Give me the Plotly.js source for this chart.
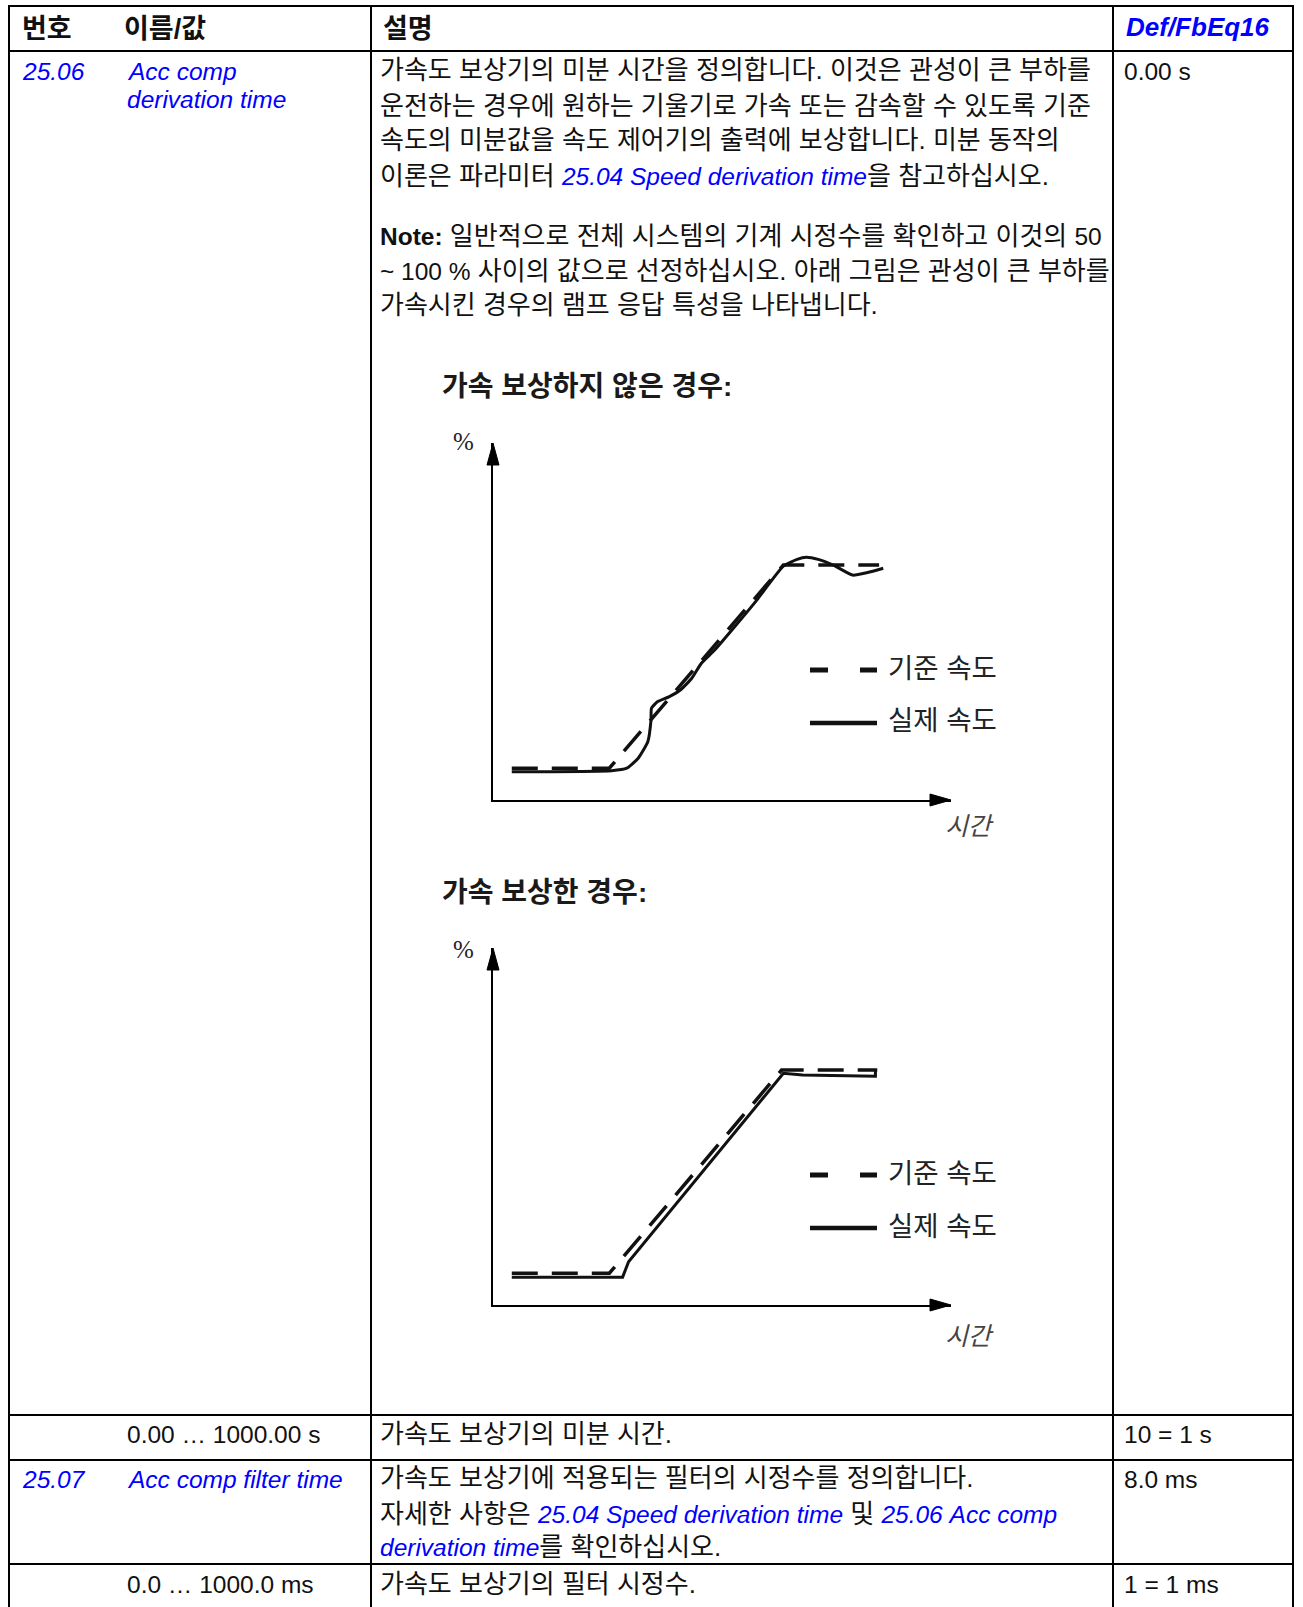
<!DOCTYPE html>
<html>
<head>
<meta charset="utf-8">
<script src="https://cdn.plot.ly/plotly-3.0.1.min.js"></script>
<style>
html,body{margin:0;padding:0;background:#fff;}
#page{width:1303px;height:1607px;}
</style>
</head>
<body>
<div id="page"></div>
<script>
// ---------- chart data (time in arbitrary units 0..100, speed in % 0..100) ----------
const ref1_t = [4.1, 25.4, 63.4, 84.3];
const ref1_v = [8.9, 8.9, 65.8, 65.8];
const act1_t = [4.1, 25.9, 29.2, 31.7, 33.8, 34.5, 34.6, 35.9, 38.4, 40.9, 43.4, 45.5, 48.4, 53.4, 57.6, 63.4, 66.4, 68.4, 71.0, 74.3, 78.5, 81.8, 85.2];
const act1_v = [7.9, 8.2, 8.9, 11.7, 16.3, 22.4, 25.7, 27.5, 28.9, 30.8, 34.1, 38.3, 42.0, 49.5, 56.0, 65.5, 67.4, 68.0, 67.4, 65.8, 63.0, 63.7, 64.9];

const ref2_t = [4.1, 25.4, 63.0, 83.9];
const ref2_v = [8.9, 8.9, 65.8, 65.8];
const act2_t = [4.1, 28.3, 29.6, 63.4, 67.6, 83.5, 83.5];
const act2_v = [7.8, 7.8, 12.1, 64.9, 64.4, 64.1, 65.6];

// ---------- text content ----------
const headerLabels = ["번호", "이름/값", "설명", "Def/FbEq16"];
const chartTitles = ["가속 보상하지 않은 경우:", "가속 보상한 경우:"];
const legendLabels = ["기준 속도", "실제 속도"];
const axisLabels = ["%", "시간"];
const row1Num = "25.06";
const row1Name = ["Acc comp", "derivation time"];
const row1Def = "0.00 s";
const link2504 = "25.04 Speed derivation time";
const desc1 = [
  "가속도 보상기의 미분 시간을 정의합니다. 이것은 관성이 큰 부하를",
  "운전하는 경우에 원하는 기울기로 가속 또는 감속할 수 있도록 기준",
  "속도의 미분값을 속도 제어기의 출력에 보상합니다. 미분 동작의",
  "이론은 파라미터 {L}을 참고하십시오."
];
const note1 = [
  "{B:Note:} 일반적으로 전체 시스템의 기계 시정수를 확인하고 이것의 {T:50}",
  "{T:~ 100 %} 사이의 값으로 선정하십시오. 아래 그림은 관성이 큰 부하를",
  "가속시킨 경우의 램프 응답 특성을 나타냅니다."
];
const row1Range = ["0.00 … 1000.00 s", "가속도 보상기의 미분 시간.", "10 = 1 s"];
const row2Num = "25.07";
const row2Name = "Acc comp filter time";
const row2Def = "8.0 ms";
const desc2 = [
  "가속도 보상기에 적용되는 필터의 시정수를 정의합니다.",
  "자세한 사항은 {L} 및 {M}",
  "{N}를 확인하십시오."
];
const row2Range = ["0.0 … 1000.0 ms", "가속도 보상기의 필터 시정수.", "1 = 1 ms"];

// ---------- layout helpers ----------
const W = 1303, H = 1607;
const px = x => x / W;
const py = y => 1 - y / H;
const FONT = "Liberation Sans, Arial, Noto Sans CJK KR, sans-serif";
const BLUE = "#0000ff";
const LAT = 24.5;   // size for Latin runs
const KOR = 26;     // size for Korean runs
const lat = s => '<span style="font-size:' + LAT + 'px">' + s + '</span>';
const blue = s => '<span style="color:' + BLUE + ';font-size:' + LAT + 'px"><i>' + s + '</i></span>';
function fmt(s) {
  return s.replace('{L}', blue(link2504))
          .replace('{M}', blue('25.06 Acc comp'))
          .replace('{N}', blue('derivation time'))
          .replace(/\{B:([^}]*)\}/g, (m, a) => lat('<b>' + a + '</b>'))
          .replace(/\{T:([^}]*)\}/g, (m, a) => lat(a));
}

const annotations = [];
function txt(x, y, text, size, opts) {
  opts = opts || {};
  annotations.push({
    xref: 'paper', yref: 'paper', x: px(x), y: py(y),
    xanchor: opts.xanchor || 'left', yanchor: 'middle',
    text: text, showarrow: false,
    font: {family: opts.family || FONT, size: size, color: opts.color || '#111'}
  });
}

const shapes = [];
function hline(x0, x1, y, w, color, dash) {
  shapes.push({type: 'line', xref: 'paper', yref: 'paper', x0: px(x0), x1: px(x1), y0: py(y), y1: py(y),
    line: {color: color || '#000', width: w || 2, dash: dash || 'solid'}});
}
function vline(x, y0, y1, w) {
  shapes.push({type: 'line', xref: 'paper', yref: 'paper', x0: px(x), x1: px(x), y0: py(y0), y1: py(y1),
    line: {color: '#000', width: w || 2}});
}
function tri(pts) {
  const p = 'M ' + pts.map(q => px(q[0]) + ',' + py(q[1])).join(' L ') + ' Z';
  shapes.push({type: 'path', xref: 'paper', yref: 'paper', path: p, fillcolor: '#000', line: {color: '#000', width: 1}});
}

// ---------- table grid ----------
const colX = [9, 371, 1113, 1293];
const rowY = [6, 51, 1415, 1460, 1564];
rowY.forEach(y => hline(colX[0] - 1, colX[3] + 1, y, 2));
colX.forEach(x => vline(x, rowY[0] - 1, H));

// ---------- table text ----------
txt(20, 29, '<b>' + headerLabels[0] + '</b>', 27);
txt(122, 29, '<b>' + headerLabels[1] + '</b>', 27);
txt(381, 29, '<b>' + headerLabels[2] + '</b>', 27);
txt(1124, 27, '<b><i>' + headerLabels[3] + '</i></b>', 26, {color: BLUE});

txt(20, 71, '<i>' + row1Num + '</i>', LAT, {color: BLUE});
txt(125, 71, '<i>' + row1Name[0] + '</i>', LAT, {color: BLUE});
txt(125, 99, '<i>' + row1Name[1] + '</i>', LAT, {color: BLUE});
txt(1122, 71, row1Def, LAT);

const descY = [70, 105.5, 140.5, 176];
desc1.forEach((s, i) => txt(378, descY[i], fmt(s), KOR));
const noteY = [236, 270.5, 304.5];
note1.forEach((s, i) => txt(378, noteY[i], fmt(s), KOR));

txt(125, 1434, row1Range[0], LAT);
txt(378, 1434, row1Range[1], KOR);
txt(1122, 1434, row1Range[2], LAT);

txt(20, 1479, '<i>' + row2Num + '</i>', LAT, {color: BLUE});
txt(125, 1479, '<i>' + row2Name + '</i>', LAT, {color: BLUE});
txt(1122, 1479, row2Def, LAT);
const desc2Y = [1478, 1514, 1547];
desc2.forEach((s, i) => txt(378, desc2Y[i], fmt(s), KOR));

txt(125, 1584, row2Range[0], LAT);
txt(378, 1584, row2Range[1], KOR);
txt(1122, 1584, row2Range[2], LAT);

// ---------- chart geometry ----------
const AX0 = 493, AX1 = 951;
const charts = [
  {titleY: 386, yTop: 443, yBot: 800, pctY: 441, timeY: 826, legDash: 670, legSolid: 723},
  {titleY: 892, yTop: 948, yBot: 1305, pctY: 949, timeY: 1336, legDash: 1175, legSolid: 1228}
];
charts.forEach((c, i) => {
  txt(440, c.titleY, '<b>' + chartTitles[i] + '</b>', 28, {color: '#1a1a1a'});
  txt(463, c.pctY, axisLabels[0], 25, {xanchor: 'center', family: 'Liberation Serif, serif', color: '#222'});
  txt(969, c.timeY, '<i>' + axisLabels[1] + '</i>', 25, {xanchor: 'center', color: '#444'});
  // arrowheads
  tri([[AX0, c.yTop], [AX0 - 6, c.yTop + 22], [AX0 + 6, c.yTop + 22]]);
  tri([[AX1, c.yBot], [AX1 - 21, c.yBot - 6], [AX1 - 21, c.yBot + 6]]);
  // legend samples
  hline(810, 877, c.legDash, 5, '#111', '18px,32px');
  hline(810, 877, c.legSolid, 4.5, '#111');
  txt(886, c.legDash - 2, legendLabels[0], 27.5, {color: '#222'});
  txt(886, c.legSolid - 2, legendLabels[1], 27.5, {color: '#222'});
});

function axisPair(c) {
  return [
    {domain: [px(AX0), px(AX1)], range: [0, 100], showline: true, linecolor: '#000', linewidth: 2,
     showgrid: false, zeroline: false, showticklabels: false, ticks: '', fixedrange: true},
    {domain: [py(c.yBot), py(c.yTop)], range: [0, 100], showline: true, linecolor: '#000', linewidth: 2,
     showgrid: false, zeroline: false, showticklabels: false, ticks: '', fixedrange: true}
  ];
}
const a1 = axisPair(charts[0]), a2 = axisPair(charts[1]);
a1[1].anchor = 'x'; a1[0].anchor = 'y';
a2[1].anchor = 'x2'; a2[0].anchor = 'y2';

const dashStyle = {color: '#111', width: 3.5, dash: '26px,14px'};
const solidStyle = {color: '#111', width: 3};
const traces = [
  {x: ref1_t, y: ref1_v, xaxis: 'x', yaxis: 'y', mode: 'lines', line: dashStyle, name: legendLabels[0], hoverinfo: 'skip', cliponaxis: false},
  {x: act1_t, y: act1_v, xaxis: 'x', yaxis: 'y', mode: 'lines', line: Object.assign({shape: 'spline', smoothing: 0.5}, solidStyle), name: legendLabels[1], hoverinfo: 'skip', cliponaxis: false},
  {x: ref2_t, y: ref2_v, xaxis: 'x2', yaxis: 'y2', mode: 'lines', line: dashStyle, name: legendLabels[0], hoverinfo: 'skip', cliponaxis: false},
  {x: act2_t, y: act2_v, xaxis: 'x2', yaxis: 'y2', mode: 'lines', line: solidStyle, name: legendLabels[1], hoverinfo: 'skip', cliponaxis: false}
];

const layout = {
  width: W, height: H,
  margin: {l: 0, r: 0, t: 0, b: 0, pad: 0},
  paper_bgcolor: '#fff', plot_bgcolor: 'rgba(0,0,0,0)',
  showlegend: false,
  xaxis: a1[0], yaxis: a1[1], xaxis2: a2[0], yaxis2: a2[1],
  shapes: shapes, annotations: annotations,
  font: {family: FONT}
};
Plotly.newPlot('page', traces, layout, {displayModeBar: false, staticPlot: true});
</script>
</body>
</html>
